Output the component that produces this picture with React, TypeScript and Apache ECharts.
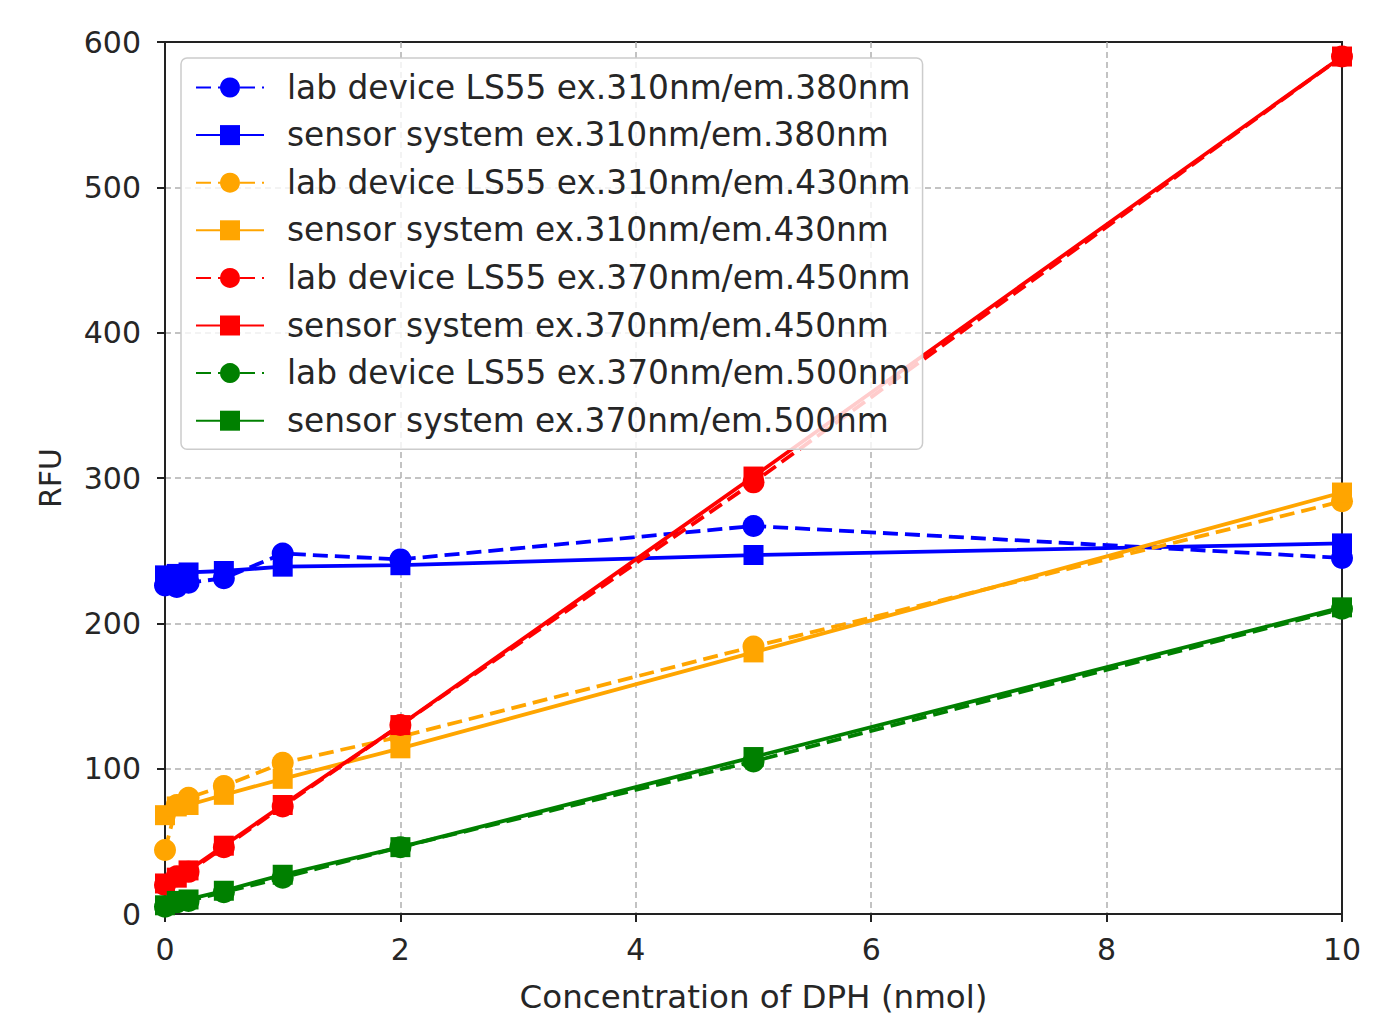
import React, { useEffect, useRef } from "react";
import * as echarts from "echarts";

const xValues = [0, 0.1, 0.2, 0.5, 1, 2, 5, 10];

const blueLab = [226, 225, 228, 231, 248, 244, 267, 245];
const blueSensor = [233, 234, 235, 236, 239, 240, 247, 255];
const orangeLab = [44, 75, 80, 88, 104, 122, 184, 284];
const orangeSensor = [68, 74, 75, 82, 93, 114, 180, 290];
const redLab = [20, 26, 29, 46, 74, 130, 297, 590];
const redSensor = [21, 25, 30, 47, 75, 130, 301, 590];
const greenLab = [5, 8, 9, 15, 25, 46, 105, 210];
const greenSensor = [6, 9, 10, 16, 27, 46, 108, 211];

const seriesNames = [
  "lab device LS55 ex.310nm/em.380nm",
  "sensor system ex.310nm/em.380nm",
  "lab device LS55 ex.310nm/em.430nm",
  "sensor system ex.310nm/em.430nm",
  "lab device LS55 ex.370nm/em.450nm",
  "sensor system ex.370nm/em.450nm",
  "lab device LS55 ex.370nm/em.500nm",
  "sensor system ex.370nm/em.500nm",
];

const seriesValues = [blueLab, blueSensor, orangeLab, orangeSensor, redLab, redSensor, greenLab, greenSensor];
const seriesColors = ["#0000ff", "#0000ff", "#ffa500", "#ffa500", "#ff0000", "#ff0000", "#008000", "#008000"];

const xTicks = [0, 2, 4, 6, 8, 10];
const yTicks = [0, 100, 200, 300, 400, 500, 600];

const FONT = "DejaVu Sans";

export default function App() {
  const ref = useRef<HTMLDivElement>(null);
  useEffect(() => {
    if (!ref.current) return;
    const chart = echarts.init(ref.current, null, { renderer: "svg" });
    const series = seriesNames.map((name, i) => {
      const isLab = i % 2 === 0;
      return {
        name,
        type: "line",
        data: xValues.map((x, j) => [x, seriesValues[i][j]]),
        symbol: isLab ? "circle" : "rect",
        symbolSize: isLab ? 22 : 20,
        showAllSymbol: true,
        clip: true,
        color: seriesColors[i],
        itemStyle: { color: seriesColors[i], borderWidth: 0 },
        lineStyle: {
          color: seriesColors[i],
          width: 3.8,
          type: isLab ? [15, 7] : "solid",
        },
        z: 2 + i * 0.01,
      };
    });
    const splitLine = { show: true, showMinLine: false, showMaxLine: false, lineStyle: { color: "#b0b0b0", width: 1.5, type: [6, 4] } };
    const axisLine = { show: true, lineStyle: { color: "#222", width: 2 } };
    chart.setOption({
      animation: false,
      backgroundColor: "#ffffff",
      textStyle: { fontFamily: FONT },
      grid: {
        left: 165,
        right: 42,
        top: 42,
        bottom: 102,
        show: true,
        borderColor: "#222",
        borderWidth: 2,
        backgroundColor: "transparent",
      },
      legend: {
        left: 181,
        top: 58,
        orient: "vertical",
        itemWidth: 68,
        itemHeight: 25,
        itemGap: 14.6,
        padding: [13, 12, 12, 14],
        backgroundColor: "rgba(255,255,255,0.8)",
        borderColor: "#cccccc",
        borderWidth: 1.5,
        borderRadius: 6,
        textStyle: {
          fontFamily: FONT,
          fontSize: 32.8,
          color: "#262626",
          padding: [0, 0, 0, 18],
          lineHeight: 30,
        },
        data: seriesNames,
      },
      xAxis: [
        {
          type: "value",
          min: xTicks[0],
          max: xTicks[xTicks.length - 1],
          interval: 2,
          name: "Concentration of DPH (nmol)",
          nameLocation: "middle",
          nameGap: 66,
          nameTextStyle: { fontFamily: FONT, fontSize: 32.5, color: "#262626" },
          axisLine,
          axisTick: { show: true, inside: false, length: 8, lineStyle: { color: "#222", width: 2 } },
          axisLabel: { fontFamily: FONT, fontSize: 30, color: "#262626", margin: 20 },
          splitLine,
        },
        {
          type: "value",
          position: "top",
          min: xTicks[0],
          max: xTicks[xTicks.length - 1],
          interval: 2,
          axisLine,
          axisTick: { show: false },
          axisLabel: { show: false },
          splitLine: { show: false },
        },
      ],
      yAxis: [
        {
          type: "value",
          min: yTicks[0],
          max: yTicks[yTicks.length - 1],
          interval: 100,
          name: "RFU",
          nameLocation: "middle",
          nameGap: 100,
          nameTextStyle: { fontFamily: FONT, fontSize: 30, color: "#262626" },
          axisLine,
          axisTick: { show: true, inside: false, length: 8, lineStyle: { color: "#222", width: 2 } },
          axisLabel: { fontFamily: FONT, fontSize: 30, color: "#262626", margin: 24 },
          splitLine,
        },
        {
          type: "value",
          position: "right",
          min: yTicks[0],
          max: yTicks[yTicks.length - 1],
          interval: 100,
          axisLine,
          axisTick: { show: false },
          axisLabel: { show: false },
          splitLine: { show: false },
        },
      ],
      series,
    });
    return () => chart.dispose();
  }, []);
  return (
    <div
      ref={ref}
      style={{ position: "fixed", left: 0, top: 0, width: 1384, height: 1018, background: "#fff" }}
    />
  );
}
